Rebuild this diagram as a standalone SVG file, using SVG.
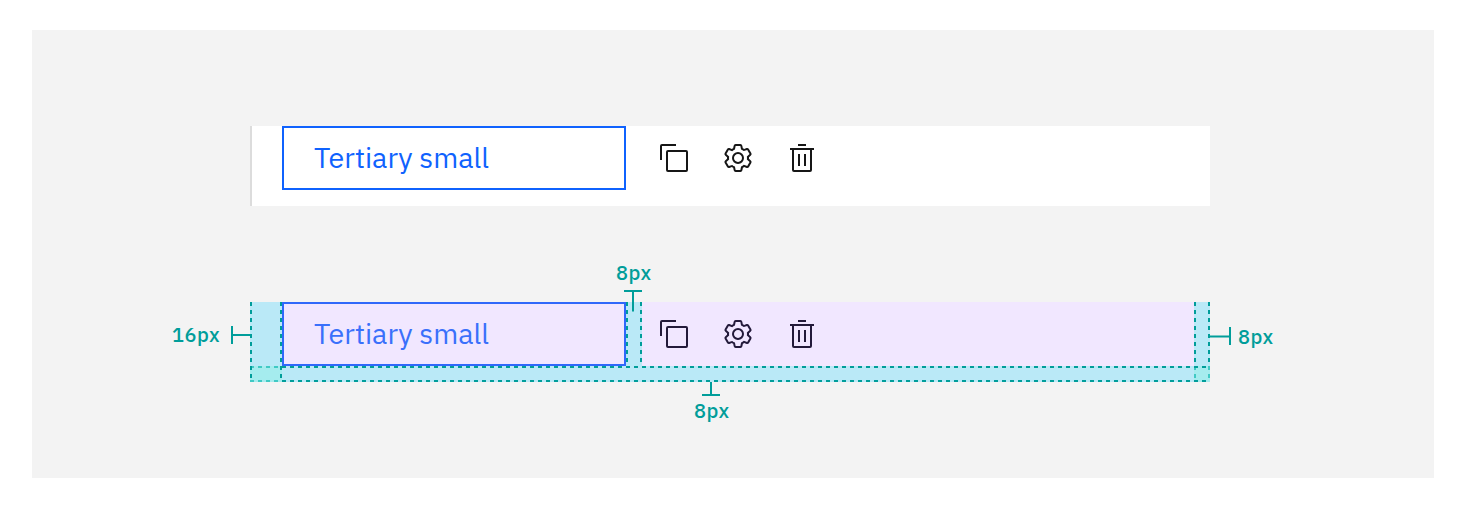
<svg xmlns="http://www.w3.org/2000/svg" width="1464" height="510" viewBox="0 0 1464 510">
<style>
.lbl{font-family:"IBM Plex Sans","Noto Sans","Liberation Sans",sans-serif;font-size:20px;font-weight:500;letter-spacing:.5px;fill:#009d9a}
.btn{font-family:"IBM Plex Sans","Noto Sans","Liberation Sans",sans-serif;font-size:28px}
.dash{stroke:#009d9a;stroke-width:2;stroke-dasharray:4 4;fill:none}
.dash-light{stroke:#40c9c4;stroke-width:2;stroke-dasharray:4 4;fill:none}
.dim{stroke:#009d9a;stroke-width:2;fill:none}
</style>
<defs>
<g id="copy"><path d="M28 10v18H10V10h18m0-2H10a2 2 0 0 0-2 2v18a2 2 0 0 0 2 2h18a2 2 0 0 0 2-2V10a2 2 0 0 0-2-2z"/><path d="M4 18V4h14V2H4a2 2 0 0 0-2 2v14z"/></g>
<g id="gear"><path d="M27 16.76v-1.53l1.92-1.68A2 2 0 0 0 29.3 11l-2.36-4a2 2 0 0 0-1.73-1 2 2 0 0 0-.64.1l-2.43.82a11.35 11.35 0 0 0-1.31-.75l-.51-2.52a2 2 0 0 0-2-1.61h-4.68a2 2 0 0 0-2 1.61l-.51 2.52a11.48 11.48 0 0 0-1.32.75l-2.38-.86A2 2 0 0 0 6.79 6a2 2 0 0 0-1.73 1L2.7 11a2 2 0 0 0 .41 2.51L5 15.24v1.53l-1.89 1.68A2 2 0 0 0 2.7 21l2.36 4a2 2 0 0 0 1.73 1 2 2 0 0 0 .64-.1l2.43-.82a11.35 11.35 0 0 0 1.31.75l.51 2.52a2 2 0 0 0 2 1.61h4.72a2 2 0 0 0 2-1.61l.51-2.52a11.48 11.48 0 0 0 1.32-.75l2.42.82a2 2 0 0 0 .64.1 2 2 0 0 0 1.73-1l2.28-4a2 2 0 0 0-.41-2.51zM25.21 24l-3.43-1.16a8.86 8.86 0 0 1-2.71 1.57L18.36 28h-4.72l-.71-3.55a9.36 9.36 0 0 1-2.7-1.57L6.79 24l-2.36-4 2.72-2.4a8.9 8.9 0 0 1 0-3.13L4.43 12l2.36-4 3.43 1.16a8.86 8.86 0 0 1 2.71-1.57L13.64 4h4.72l.71 3.55a9.36 9.36 0 0 1 2.7 1.57L25.21 8l2.36 4-2.72 2.4a8.9 8.9 0 0 1 0 3.13L27.57 20z"/><path d="M16 22a6 6 0 1 1 6-6 5.94 5.94 0 0 1-6 6zm0-10a3.91 3.91 0 0 0-4 4 3.91 3.91 0 0 0 4 4 3.91 3.91 0 0 0 4-4 3.91 3.91 0 0 0-4-4z"/></g>
<g id="trash"><path d="M12 12h2v12h-2zM18 12h2v12h-2z"/><path d="M4 6v2h2v20a2 2 0 0 0 2 2h16a2 2 0 0 0 2-2V8h2V6zm4 22V8h16v20zM12 2h8v2h-8z"/></g>
</defs>
<rect id="background" x="32" y="30" width="1402" height="448" fill="#f3f3f3"/>
<g id="top-bar">
<rect x="250" y="126" width="960" height="80" fill="#fff"/>
<rect x="250" y="126" width="2" height="80" fill="#dcdcdc"/>
</g>
<g id="top-button">
<rect x="283" y="127" width="342" height="62" fill="#fff" stroke="#0f62fe" stroke-width="2"/>
<text class="btn" x="314" y="168" fill="#0f62fe" textLength="175" lengthAdjust="spacingAndGlyphs">Tertiary small</text>
</g>
<g id="top-icons" fill="#161616">
<use href="#copy" x="658" y="142"/><use href="#gear" x="722" y="142"/><use href="#trash" x="786" y="142"/>
</g>
<g id="spacing-bar">
<rect x="250" y="302" width="960" height="80" fill="#bae9f7"/>
<rect x="642" y="302" width="552" height="64" fill="#f1e7ff"/>
<rect x="250" y="366" width="32" height="16" fill="#a5ecee"/>
<rect x="1194" y="366" width="16" height="16" fill="#a5ecee"/>
</g>
<g id="spacing-button">
<rect x="283" y="303" width="342" height="62" fill="#f1e7ff" stroke="#3068fa" stroke-width="2"/>
<text class="btn" x="314" y="344" fill="#3a70fb" textLength="175" lengthAdjust="spacingAndGlyphs">Tertiary small</text>
</g>
<g id="spacing-icons" fill="#231a3a">
<use href="#copy" x="658" y="318"/><use href="#gear" x="722" y="318"/><use href="#trash" x="786" y="318"/>
</g>
<g id="connectors">
<path class="dash-light" d="M250 367H282M250 381H282M1195 366V382M1209 366V382"/>
<path class="dash" d="M282 367H1210M282 381H1210"/>
<path class="dash" d="M251 302V382M281 302V382M627 302V366M641 302V366M1195 302V366M1209 302V366"/>
<path class="dim" d="M232 326V344M232 335H250M624 291H642M633 291V311.500M702 395H720M711 395V382M1230 327V345M1210 336.500H1230"/>
</g>
<g id="labels">
<text class="lbl" x="172" y="342">16px</text>
<text class="lbl" x="616" y="280">8px</text>
<text class="lbl" x="694" y="418">8px</text>
<text class="lbl" x="1238" y="344">8px</text>
</g>
</svg>
